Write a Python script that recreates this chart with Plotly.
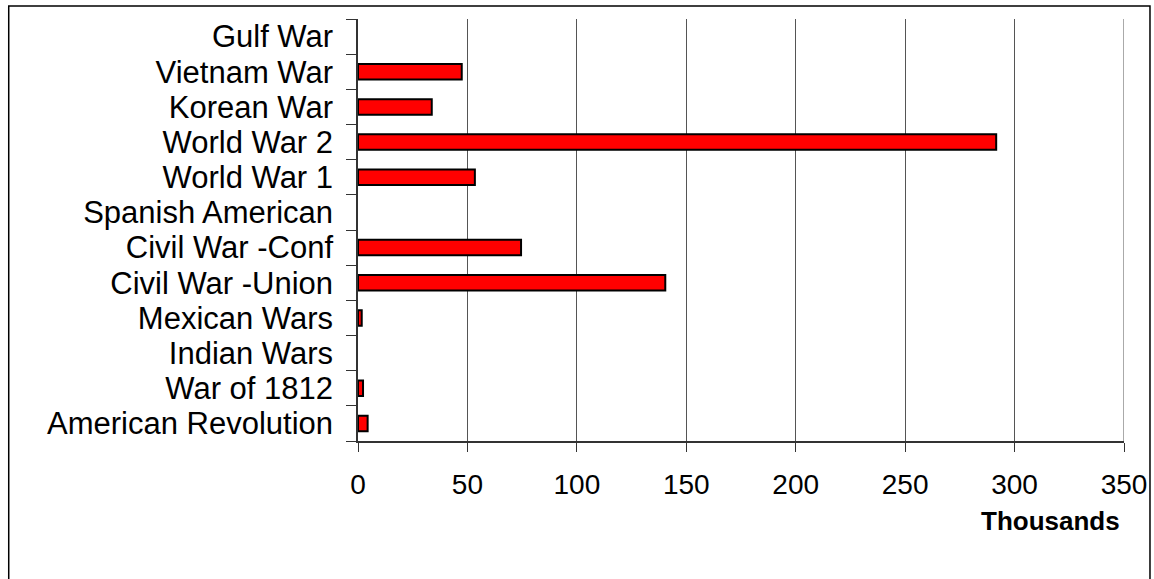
import plotly.graph_objects as go

categories = ["American Revolution", "War of 1812", "Indian Wars", "Mexican Wars",
              "Civil War -Union", "Civil War -Conf", "Spanish American", "World War 1",
              "World War 2", "Korean War", "Vietnam War", "Gulf War"]
deaths_thousands = [4.4, 2.3, None, 1.7, 140.4, 74.5, None, 53.4, 291.6, 33.7, 47.4, None]
x_ticks = [0, 50, 100, 150, 200, 250, 300, 350]

W, H = 1154, 579
L, R, T, B = 357.5, 30, 19, 138
pw, ph = W - L - R, H - T - B

fig = go.Figure(go.Bar(
    y=categories, x=deaths_thousands, orientation="h",
    marker=dict(color="#FF0000", line=dict(color="black", width=2)),
))

font = "Liberation Sans, Arial, sans-serif"
fig.update_layout(
    width=W, height=H,
    margin=dict(l=L, r=R, t=T, b=B, autoexpand=False),
    paper_bgcolor="white", plot_bgcolor="white",
    bargap=0.56, showlegend=False,
    font=dict(family=font, color="black"),
    xaxis=dict(range=[0, 350], tickvals=x_ticks, ticks="outside", ticklen=9,
               tickcolor="#333", showline=True, linecolor="#333", linewidth=1.5,
               showgrid=True, gridcolor="#555", gridwidth=1, zeroline=False,
               automargin=False,
               tickfont=dict(size=28, family=font), ticklabelstandoff=9),
    yaxis=dict(categoryorder="array", categoryarray=categories, tickson="boundaries",
               tickmode="linear", tick0=0, dtick=1, automargin=False,
               ticks="outside", ticklen=10, tickcolor="#333", showline=True,
               linecolor="#333", linewidth=1.5, showgrid=False,
               tickfont=dict(size=31, family=font), ticklabelstandoff=17),
    annotations=[dict(text="<b>Thousands</b>", xref="paper", yref="paper",
                      x=(1122 - L) / pw, y=(T + ph - 521) / ph, xanchor="right",
                      yanchor="middle", showarrow=False,
                      font=dict(size=26, family=font, color="black"))],
    shapes=[dict(type="rect", xref="paper", yref="paper",
                 x0=(8 - L) / pw, x1=(1150 - L) / pw,
                 y0=(T + ph - 600) / ph, y1=(T + ph - 6) / ph,
                 line=dict(color="black", width=1.5)),
            dict(type="line", xref="x", yref="paper", x0=x_ticks[-1], x1=x_ticks[-1],
                 y0=0, y1=1, line=dict(color="#555", width=1))],
)
fig.write_html("out.html", config={"displayModeBar": False},
               post_script="document.body.style.margin='0';document.body.style.padding='0';")
